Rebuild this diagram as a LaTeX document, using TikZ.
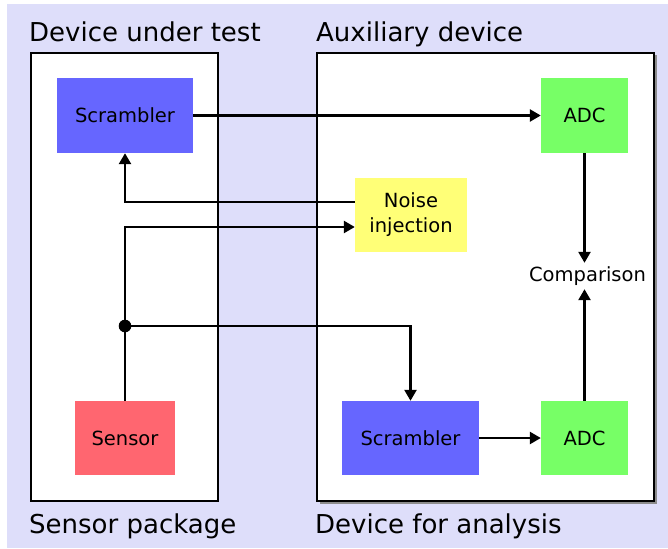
\documentclass[tikz,border=0pt]{standalone}
\usepackage{fontspec}
\setmainfont{DejaVu Sans}
\usetikzlibrary{arrows.meta}
\definecolor{bgc}{RGB}{222,222,250}
\definecolor{scrc}{RGB}{102,102,255}
\definecolor{adcc}{RGB}{119,255,102}
\definecolor{noisec}{RGB}{255,255,119}
\definecolor{sensc}{RGB}{255,102,112}
\tikzset{
  blk/.style={inner sep=0pt, align=center, font=\fontsize{19.5}{25}\selectfont},
  title/.style={inner sep=0pt, anchor=base west, font=\fontsize{26}{30}\selectfont},
  frame/.style={draw=black, fill=white, line width=2.8pt},
  arr/.style={draw=black, line width=2.5pt, -{Triangle[length=11pt,width=12pt]}},
  wire/.style={draw=black, line width=2.5pt}
}
\begin{document}
\begin{tikzpicture}[x=1pt,y=-1pt]
\useasboundingbox (0,0) rectangle (668,548);
\fill[bgc] (7,4) rectangle (668,548);
% containers
\draw[frame] (31,53) rectangle (218,501);
\fill[black!45] (319.5,55.5) rectangle (656.5,503.5);
\draw[frame] (317,53) rectangle (654,501);
% titles
\node[title] (t1) at (29,42) {Device under test};
\node[title] (t2) at (316,42) {Auxiliary device};
\node[title] (t3) at (29,533) {Sensor package};
\node[title] (t4) at (315,533) {Device for analysis};
% blocks
\node[blk, fill=scrc, minimum width=136pt, minimum height=75pt] (scr1) at (125,115.5) {Scrambler};
\node[blk, fill=adcc, minimum width=87pt, minimum height=75pt] (adc1) at (584.5,115.5) {ADC};
\node[blk, fill=noisec, minimum width=112pt, minimum height=74pt] (noise) at (411,215) {Noise\\injection};
\node[blk, fill=sensc, minimum width=100pt, minimum height=74pt] (sens) at (125,438) {Sensor};
\node[blk, fill=scrc, minimum width=137pt, minimum height=74pt] (scr2) at (410.5,438) {Scrambler};
\node[blk, fill=adcc, minimum width=87pt, minimum height=74pt] (adc2) at (584.5,438) {ADC};
\node[blk, minimum height=26pt] (cmp) at (587.5,276) {Comparison};
\coordinate (j) at (125,326);
% connectors
\draw[arr] (scr1.east) -- (adc1.west);
\draw[arr] ([yshift=13pt]noise.west) -| (scr1.south);
\draw[arr] (sens.north) |- ([yshift=-12pt]noise.west);
\draw[arr] (j) -| (scr2.north);
\fill (j) circle (6.3pt);
\draw[arr] (scr2.east) -- (adc2.west);
\draw[arr] (adc1.south) -- (adc1.south |- cmp.north);
\draw[arr] (adc2.north) -- (adc2.north |- cmp.south);
\end{tikzpicture}
\end{document}
